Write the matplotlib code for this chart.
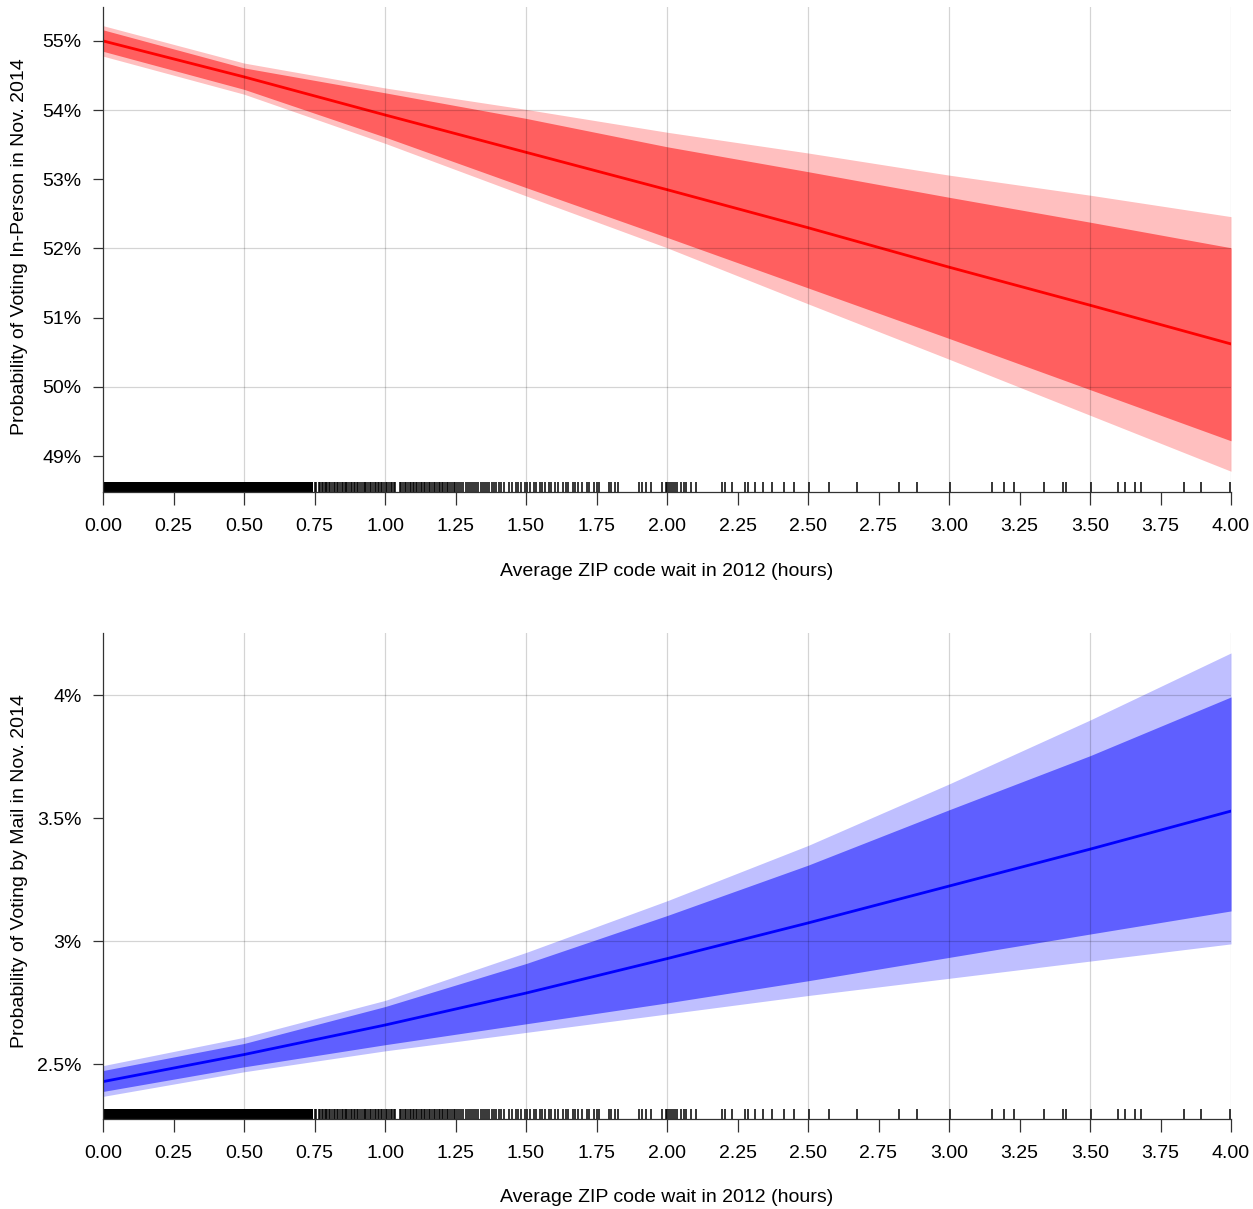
import matplotlib
matplotlib.use('Agg')
import matplotlib.pyplot as plt
from matplotlib.ticker import FixedLocator

plt.rcParams['font.family'] = ['Liberation Sans', 'DejaVu Sans']

# predicted probabilities by average 2012 ZIP code wait (hours)
wait_hours = [0.0, 0.5, 1.0, 1.5, 2.0, 2.5, 3.0, 3.5, 4.0]

# in-person voting, Nov. 2014 (percent)
inperson_mean = [55.00, 54.48, 53.93, 53.39, 52.85, 52.30, 51.73, 51.18, 50.62]
inperson_inner_hi = [55.16, 54.61, 54.25, 53.88, 53.47, 53.11, 52.74, 52.38, 52.01]
inperson_inner_lo = [54.85, 54.30, 53.61, 52.88, 52.16, 51.43, 50.70, 49.96, 49.22]
inperson_outer_hi = [55.22, 54.68, 54.32, 54.01, 53.68, 53.38, 53.06, 52.77, 52.46]
inperson_outer_lo = [54.78, 54.23, 53.52, 52.76, 52.01, 51.20, 50.40, 49.59, 48.78]

# voting by mail, Nov. 2014 (percent)
mail_mean = [2.430, 2.540, 2.660, 2.790, 2.930, 3.075, 3.225, 3.375, 3.530]
mail_inner_hi = [2.475, 2.585, 2.735, 2.910, 3.105, 3.310, 3.535, 3.755, 3.994]
mail_inner_lo = [2.390, 2.490, 2.580, 2.665, 2.750, 2.840, 2.935, 3.030, 3.124]
mail_outer_hi = [2.495, 2.610, 2.760, 2.955, 3.165, 3.390, 3.640, 3.900, 4.173]
mail_outer_lo = [2.370, 2.470, 2.555, 2.630, 2.705, 2.780, 2.850, 2.920, 2.990]

# observed ZIP code waits: solid run of observations, then individual ones
rug_solid = [0.0, 0.745]
rug_hours = [
    0.752, 0.757, 0.766, 0.771, 0.776, 0.781, 0.786, 0.790, 0.795, 0.801,
    0.806, 0.812, 0.818, 0.823, 0.829, 0.834, 0.840, 0.846, 0.851, 0.857,
    0.862, 0.866, 0.873, 0.879, 0.884, 0.889, 0.895, 0.901, 0.906, 0.913,
    0.918, 0.924, 0.929, 0.934, 0.941, 0.947, 0.952, 0.958, 0.963, 0.969,
    0.975, 0.980, 0.986, 0.991, 0.997, 1.003, 1.008, 1.014, 1.020, 1.026,
    1.031, 1.036, 1.053, 1.058, 1.064, 1.070, 1.075, 1.081, 1.087, 1.092,
    1.098, 1.103, 1.109, 1.115, 1.121, 1.126, 1.132, 1.138, 1.143, 1.149,
    1.155, 1.160, 1.166, 1.172, 1.178, 1.184, 1.190, 1.196, 1.201, 1.207,
    1.213, 1.219, 1.225, 1.231, 1.237, 1.243, 1.249, 1.256, 1.262, 1.270,
    1.278, 1.286, 1.293, 1.301, 1.309, 1.316, 1.324, 1.331, 1.339, 1.347,
    1.355, 1.362, 1.370, 1.378, 1.387, 1.395, 1.404, 1.413, 1.422, 1.440,
    1.452, 1.463, 1.471, 1.484, 1.497, 1.503, 1.515, 1.528, 1.534, 1.548,
    1.556, 1.569, 1.582, 1.590, 1.604, 1.615, 1.630, 1.641, 1.650, 1.666,
    1.673, 1.686, 1.700, 1.718, 1.725, 1.740, 1.752, 1.759, 1.793, 1.800,
    1.815, 1.827, 1.901, 1.912, 1.925, 1.942, 1.983, 1.995, 2.000, 2.008,
    2.015, 2.022, 2.030, 2.035, 2.048, 2.059, 2.069, 2.086, 2.102, 2.195,
    2.204, 2.232, 2.277, 2.286, 2.313, 2.340, 2.371, 2.415, 2.449, 2.503,
    2.573, 2.674, 2.822, 2.887, 3.005, 3.151, 3.195, 3.232, 3.338, 3.405,
    3.416, 3.504, 3.598, 3.625, 3.661, 3.680, 3.835, 3.894, 3.998,
]

x_ticks = [0.0, 0.25, 0.5, 0.75, 1.0, 1.25, 1.5, 1.75, 2.0, 2.25, 2.5,
           2.75, 3.0, 3.25, 3.5, 3.75, 4.0]
x_grid = [0.5, 1.0, 1.5, 2.0, 2.5, 3.0, 3.5, 4.0]

inperson_ticks = [49, 50, 51, 52, 53, 54, 55]
inperson_labels = ['49%', '50%', '51%', '52%', '53%', '54%', '55%']
inperson_grid = [50, 52, 54]
mail_ticks = [2.5, 3.0, 3.5, 4.0]
mail_labels = ['2.5%', '3%', '3.5%', '4%']
mail_grid = [3.0, 4.0]

W, H = 1253, 1209
fig = plt.figure(figsize=(W / 100, H / 100), dpi=100)

AXIS_COL = '#333333'
FS = 14


def panel(rect, mean, ihi, ilo, ohi, olo, light, dark, line, ylim,
          yticks, ylabels, ygrid, ylabel, ylabel_y, xlabel_y):
    ax = fig.add_axes(rect)
    ax.fill_between(wait_hours, olo, ohi, color=light, lw=0, zorder=1)
    ax.fill_between(wait_hours, ilo, ihi, color=dark, lw=0, zorder=2)
    ax.plot(wait_hours, mean, color=line, lw=2.0, zorder=3)

    for g in x_grid:
        ax.axvline(g, color='black', alpha=0.17, lw=0.9, zorder=4)
    for g in ygrid:
        ax.axhline(g, color='black', alpha=0.17, lw=0.9, zorder=4)

    # rug of observed waits along the bottom axis
    rug_h = 10 / (rect[3] * H)
    ax.axvspan(rug_solid[0], rug_solid[1], ymin=0, ymax=rug_h,
               color='black', lw=0, zorder=5)
    ax.vlines(rug_hours, 0, rug_h, transform=ax.get_xaxis_transform(),
              color='black', lw=1.1, zorder=5, clip_on=False)

    ax.set_xlim(0, 4)
    ax.set_ylim(*ylim)
    ax.xaxis.set_major_locator(FixedLocator(x_ticks))
    ax.set_xticklabels(['%.2f' % t for t in x_ticks])
    ax.set_yticks(yticks)
    ax.set_yticklabels(ylabels)
    for s in ['top', 'right']:
        ax.spines[s].set_visible(False)
    for s in ['left', 'bottom']:
        ax.spines[s].set_color(AXIS_COL)
        ax.spines[s].set_linewidth(0.9)
        ax.spines[s].set_zorder(6)
    ax.tick_params(axis='x', length=9, width=0.9, color=AXIS_COL,
                   labelsize=FS, pad=10)
    ax.tick_params(axis='y', length=7.5, width=0.9, color=AXIS_COL,
                   labelsize=FS, pad=8)

    fig.text(20 / W, 1 - ylabel_y / H, ylabel, rotation=90,
             ha='center', va='center', fontsize=FS)
    fig.text(667 / W, 1 - xlabel_y / H, 'Average ZIP code wait in 2012 (hours)',
             ha='center', va='center', fontsize=FS)
    return ax


left = 103 / W
width = (1231 - 103) / W

panel([left, 1 - 492 / H, width, (492 - 7) / H],
      inperson_mean, inperson_inner_hi, inperson_inner_lo,
      inperson_outer_hi, inperson_outer_lo,
      '#FFBFBF', '#FF5F5F', '#FF0000', (48.48, 55.49),
      inperson_ticks, inperson_labels, inperson_grid,
      'Probability of Voting In-Person in Nov. 2014', 247, 572)

panel([left, 1 - 1119 / H, width, (1119 - 633) / H],
      mail_mean, mail_inner_hi, mail_inner_lo,
      mail_outer_hi, mail_outer_lo,
      '#BFBFFF', '#5F5FFF', '#0000FF', (2.278, 4.254),
      mail_ticks, mail_labels, mail_grid,
      'Probability of Voting by Mail in Nov. 2014', 871, 1198)

fig.savefig('out.png', dpi=100)
